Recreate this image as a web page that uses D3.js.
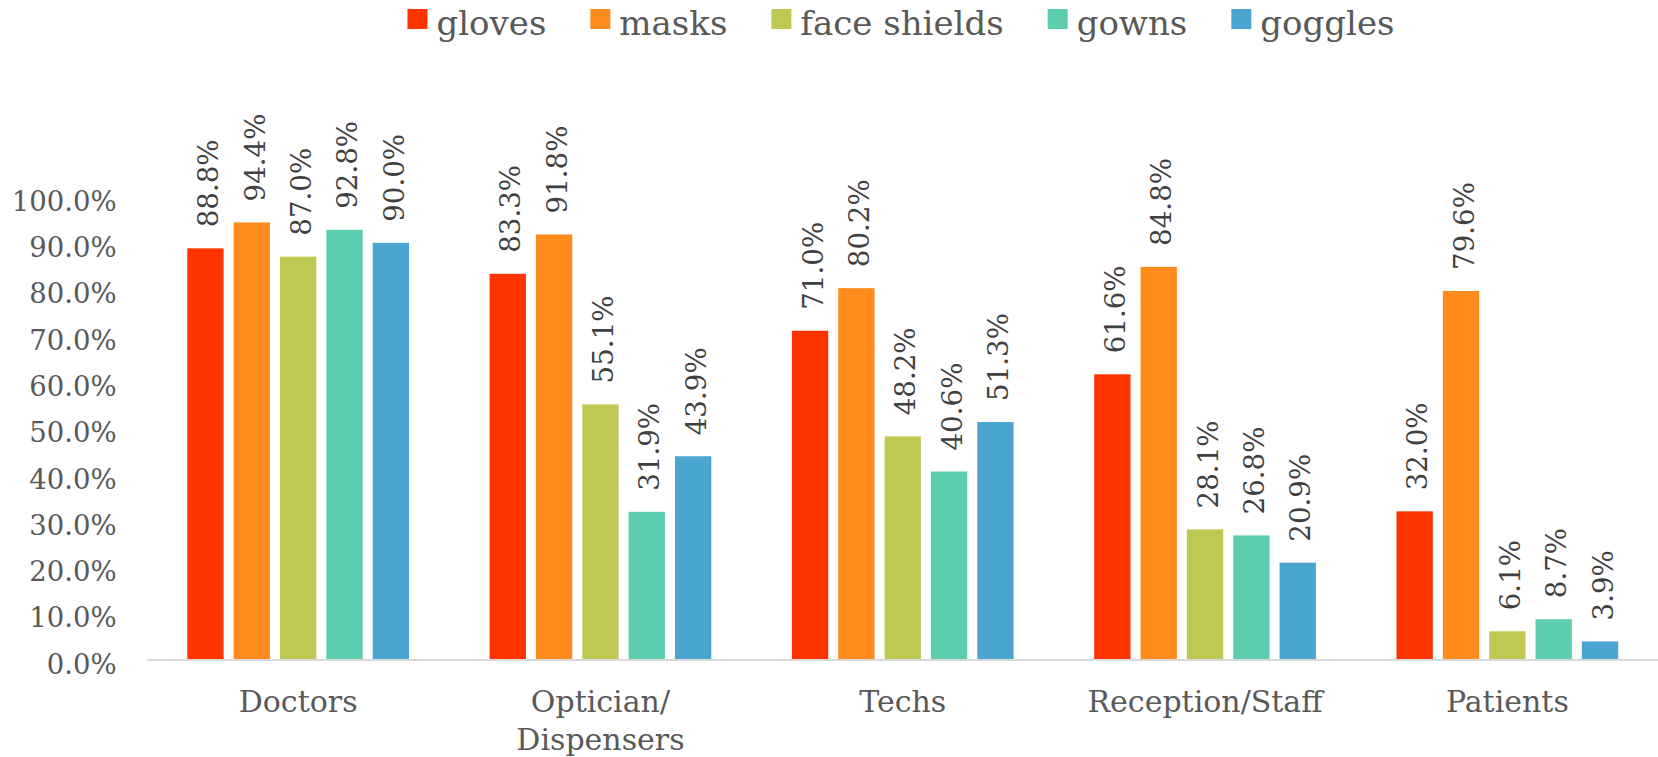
<!DOCTYPE html>
<html>
<head>
<meta charset="utf-8">
<script src="https://cdn.jsdelivr.net/npm/d3@7"></script>
<style>
  body { margin: 0; background: #fff; }
  svg { display: block; font-family: "DejaVu Serif", serif; }
</style>
</head>
<body>
<svg></svg>
<script>
// categories and series
const categories = ["Doctors", "Optician/ Dispensers", "Techs", "Reception/Staff", "Patients"];
const seriesNames = ["gloves", "masks", "face shields", "gowns", "goggles"];
const seriesColors = ["#ff3300", "#fe8b1b", "#bfc853", "#5dcdb0", "#4aa6d0"];

// values per series, in category order
const gloves = [0.888, 0.833, 0.710, 0.616, 0.320];
const masks = [0.944, 0.918, 0.802, 0.848, 0.796];
const faceShields = [0.870, 0.551, 0.482, 0.281, 0.061];
const gowns = [0.928, 0.319, 0.406, 0.268, 0.087];
const goggles = [0.900, 0.439, 0.513, 0.209, 0.039];
const yTicks = [0, 0.1, 0.2, 0.3, 0.4, 0.5, 0.6, 0.7, 0.8, 0.9, 1.0];

const seriesValues = [gloves, masks, faceShields, gowns, goggles];

const width = 1658, height = 757;
const margin = { top: 196.5, right: 0, bottom: 97.5, left: 147 };

const svg = d3.select("svg")
    .attr("width", width)
    .attr("height", height);

// build rows for the grouped bars
const rows = categories.map((c, i) => ({
    category: c,
    values: seriesNames.map((s, j) => ({ series: s, value: seriesValues[j][i] }))
}));

const x0 = d3.scaleBand()
    .domain(categories)
    .range([margin.left, width + 0.5 - margin.right])
    .padding(0);

const x1 = d3.scaleBand()
    .domain(seriesNames)
    .range([40.3, x0.bandwidth() - 40.3])
    .paddingInner(0.216)
    .paddingOuter(0);

const y = d3.scaleLinear()
    .domain([0, 1])
    .range([height - margin.bottom, margin.top]);

const color = d3.scaleOrdinal().domain(seriesNames).range(seriesColors);

// y axis: labels only
const yAxis = svg.append("g")
    .attr("transform", `translate(${margin.left - 30.3},0)`)
    .call(d3.axisLeft(y).tickValues(yTicks).tickFormat(d3.format(".1%")).tickSize(0).tickPadding(0));
yAxis.select(".domain").remove();
yAxis.selectAll("text")
    .attr("font-family", "DejaVu Serif")
    .attr("font-size", 27.5)
    .attr("fill", "#595959")
    .attr("dy", "0.5em");

// bars
const groups = svg.append("g")
    .selectAll("g")
    .data(rows)
    .join("g")
    .attr("transform", d => `translate(${x0(d.category)},0)`);

groups.selectAll("rect")
    .data(d => d.values)
    .join("rect")
    .attr("x", d => x1(d.series))
    .attr("y", d => y(d.value))
    .attr("width", x1.bandwidth())
    .attr("height", d => y(0) - y(d.value))
    .attr("fill", d => color(d.series));

// rotated value labels
groups.selectAll("text.value")
    .data(d => d.values)
    .join("text")
    .attr("class", "value")
    .attr("transform", d => `translate(${x1(d.series) + x1.bandwidth() / 2 + 3},${y(d.value) - 21}) rotate(-90)`)
    .attr("dy", "0.35em")
    .attr("text-anchor", "start")
    .attr("font-size", 27.7)
    .attr("fill", "#404040")
    .text(d => d3.format(".1%")(d.value));

// x axis
const xAxis = svg.append("g")
    .attr("transform", `translate(0,${y(0)})`)
    .call(d3.axisBottom(x0).tickSize(0).tickSizeOuter(0).tickFormat(""));
xAxis.select(".domain")
    .attr("stroke", "#d9d9d9")
    .attr("stroke-width", 2);

xAxis.selectAll(".tick").each(function (d) {
    const lines = d.split(/(?<=\/) /);
    const t = d3.select(this).append("text")
        .attr("fill", "#595959")
        .attr("font-family", "DejaVu Serif")
        .attr("font-size", 30)
        .attr("text-anchor", "middle")
        .attr("y", 52);
    lines.forEach((line, i) => {
        t.append("tspan").attr("x", 0).attr("dy", i === 0 ? 0 : 38.5).text(line);
    });
});

// legend, centred above the plot
const legend = svg.append("g");
const item = legend.selectAll("g")
    .data(seriesNames)
    .join("g");
item.append("rect")
    .attr("y", 9)
    .attr("width", 20)
    .attr("height", 20)
    .attr("fill", d => color(d));
item.append("text")
    .attr("x", 29)
    .attr("y", 35)
    .attr("font-size", 34)
    .attr("fill", "#595959")
    .text(d => d);

let xpos = 0;
item.each(function () {
    const w = this.getBBox().width;
    d3.select(this).attr("transform", `translate(${xpos},0)`);
    xpos += w + 44;
});
const legendWidth = xpos - 44;
legend.attr("transform", `translate(${901 - legendWidth / 2},0)`);
</script>
</body>
</html>
